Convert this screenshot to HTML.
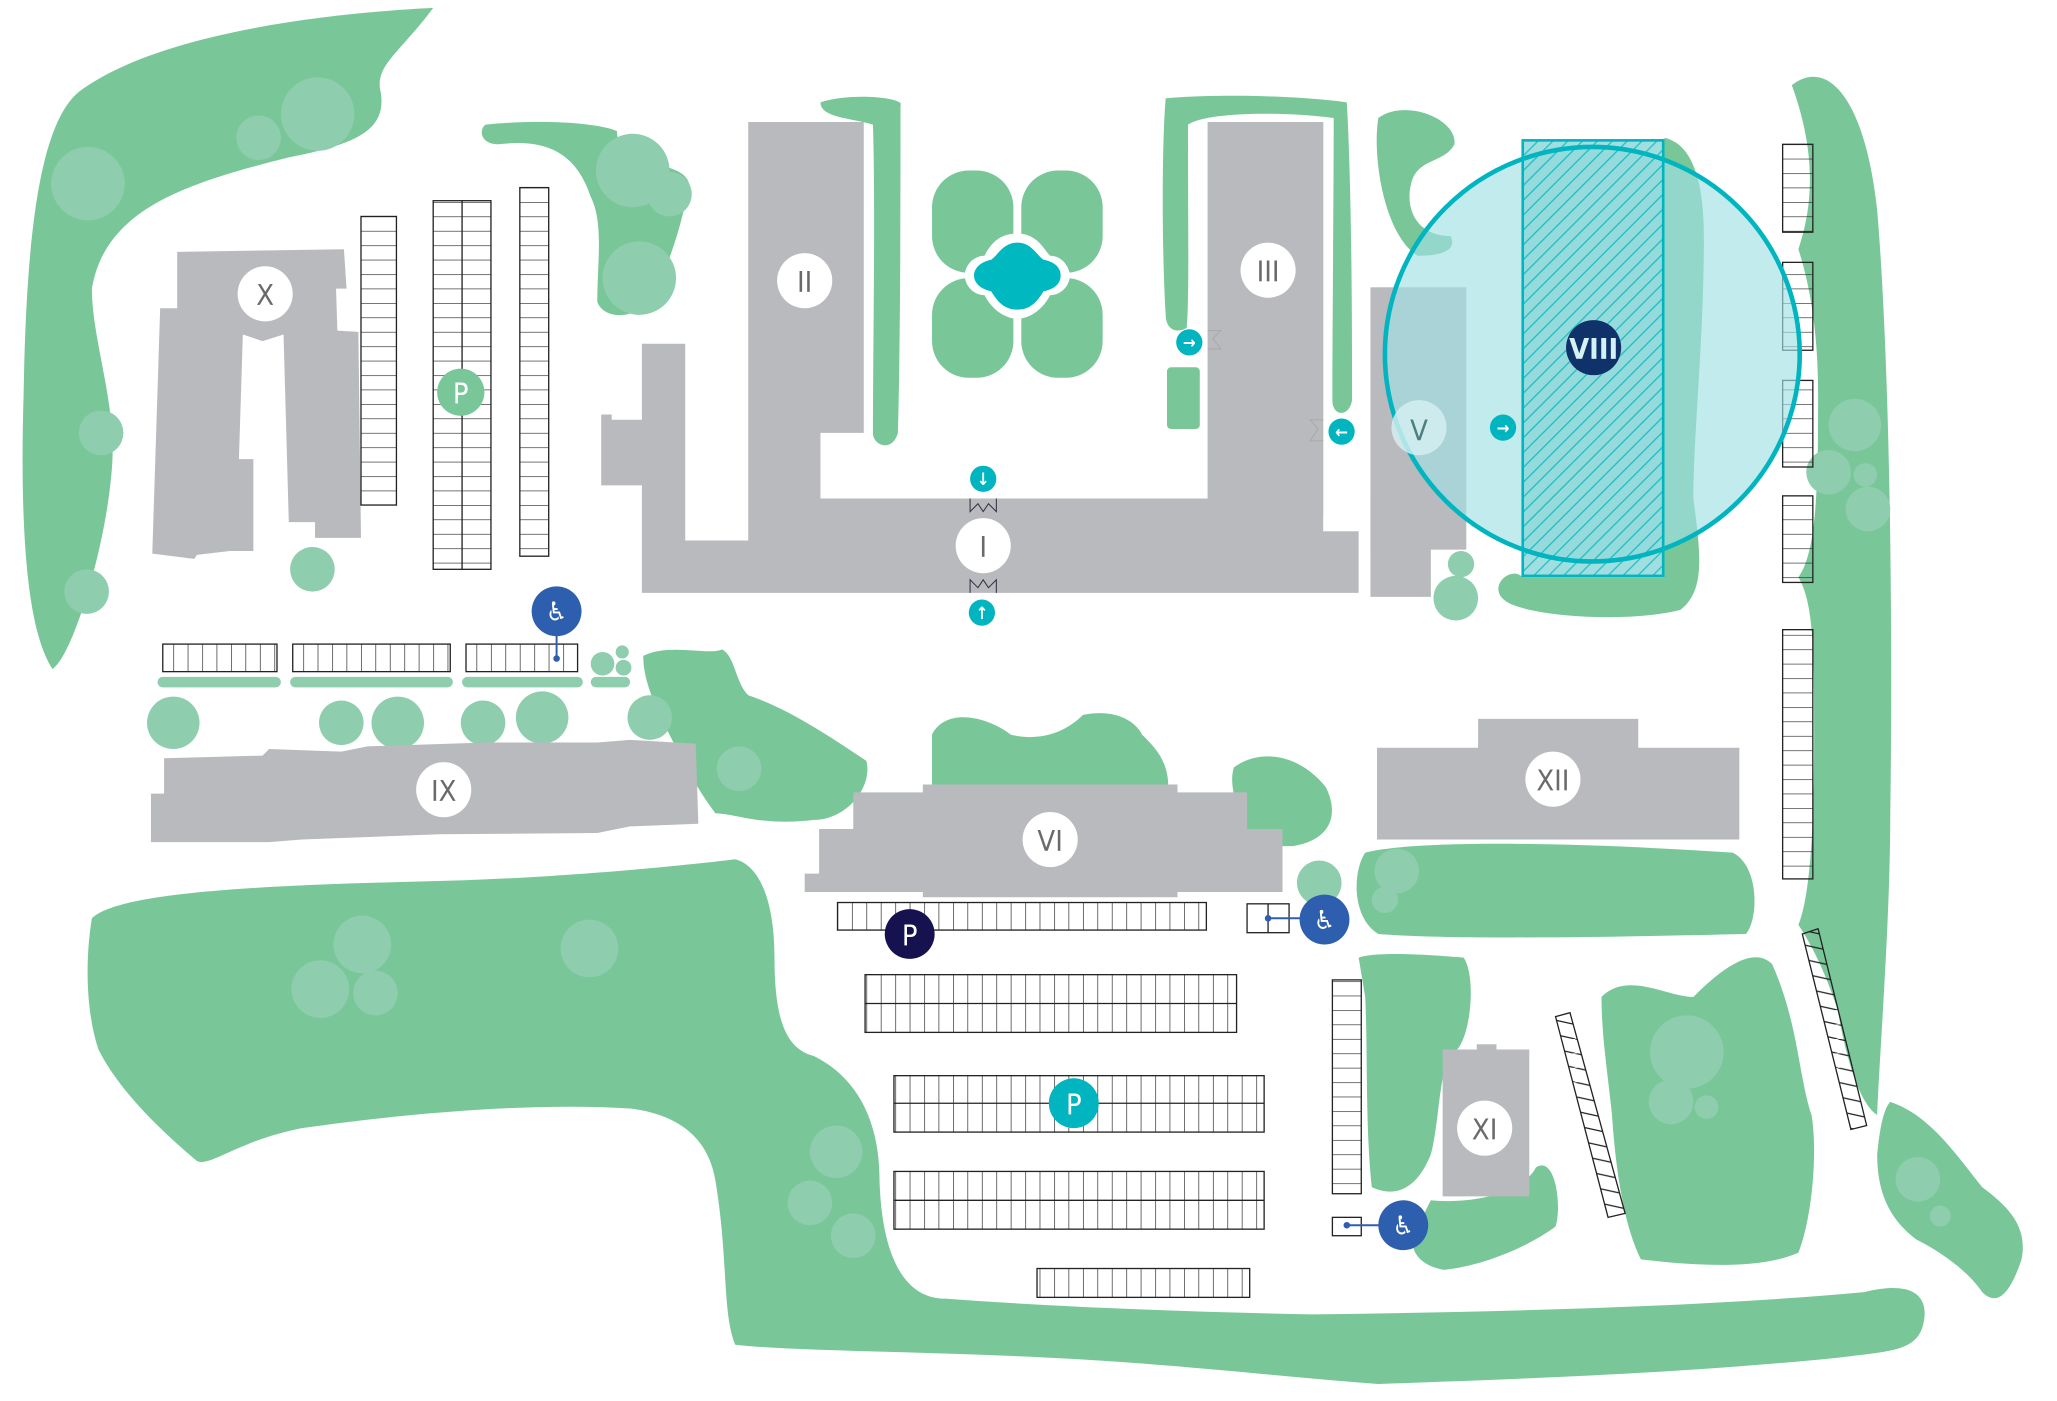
<!DOCTYPE html>
<html><head><meta charset="utf-8"><style>
html,body{margin:0;padding:0;background:#fff}
svg{display:block}
text{font-family:"DejaVu Sans Condensed","DejaVu Sans","Liberation Sans",sans-serif;text-anchor:middle;dominant-baseline:central}
</style></head><body>
<svg width="2057" height="1401" viewBox="0 0 1567 1068" preserveAspectRatio="none" xmlns="http://www.w3.org/2000/svg">
<defs>
<pattern id="hv" width="11" height="200" patternUnits="userSpaceOnUse"><line x1="0" y1="0" x2="0" y2="200" stroke="#222" stroke-width="1"/></pattern>
<pattern id="hh" width="200" height="11" patternUnits="userSpaceOnUse"><line x1="0" y1="0" x2="200" y2="0" stroke="#222" stroke-width="1"/></pattern>
<pattern id="hatch" width="8" height="8" patternUnits="userSpaceOnUse" patternTransform="rotate(45)"><rect width="8" height="8" fill="#8fd8d9"/><line x1="0" y1="0" x2="0" y2="8" stroke="#00b5bf" stroke-width="2"/></pattern>
<pattern id="diag" width="50" height="11" patternUnits="userSpaceOnUse"><line x1="0" y1="0" x2="50" y2="11" stroke="#222" stroke-width="1"/></pattern>
</defs>
<g fill="#79c799">
<!-- top-left big green -->
<path d="M330 6 C250 10 120 25 60 70 C30 95 20 180 18 300 C15 400 20 480 40 510 C55 500 80 420 85 360 C90 310 70 260 70 220 C80 160 140 140 220 120 C270 110 295 100 290 70 C285 50 305 40 330 6Z"/>
<path d="M370 95 C420 90 460 95 470 100 C470 130 520 120 525 140 C520 170 510 200 500 220 C490 245 460 245 455 230 C455 200 460 170 450 150 C440 120 420 105 380 110 C365 110 365 98 370 95Z"/>
<path d="M625 78 C650 70 690 75 686 80 C686 150 686 260 684 330 C680 345 665 340 665 330 C665 260 667 160 665 95 C650 90 625 90 625 78Z"/>
<rect x="710" y="130" width="62" height="78" rx="28"/><rect x="778" y="130" width="62" height="78" rx="28"/>
<rect x="710" y="212" width="62" height="76" rx="28"/><rect x="778" y="212" width="62" height="76" rx="28"/>
<path d="M888 75 C920 72 980 72 1026 78 C1030 150 1030 260 1030 305 C1028 318 1015 318 1015 305 C1015 250 1016 150 1016 90 C980 85 920 85 905 95 C905 170 906 230 904 250 C895 255 888 250 888 240 C885 190 885 110 888 75Z"/>
<rect x="889" y="280" width="25" height="47" rx="3"/>
<path d="M1050 90 C1070 75 1110 90 1108 110 C1100 125 1080 120 1075 140 C1070 160 1080 180 1105 180 C1110 190 1100 195 1080 195 C1055 180 1045 120 1050 90Z"/>
<path d="M1268 105 C1290 110 1298 140 1298 180 C1298 260 1290 330 1290 380 C1295 420 1300 450 1280 465 C1240 475 1170 470 1150 460 C1130 450 1150 430 1160 440 L1268 440Z"/>
<path d="M1365 65 C1390 45 1420 70 1430 160 C1440 280 1442 480 1440 620 C1440 700 1432 800 1430 850 C1415 840 1405 800 1400 770 C1390 740 1380 720 1370 705 C1380 680 1382 620 1382 560 C1382 500 1382 460 1370 440 C1385 420 1385 360 1385 300 C1385 250 1378 215 1370 190 C1380 160 1385 120 1365 65Z"/>
<!-- middle blobs -->
<path d="M490 500 C510 490 540 500 550 495 C560 500 560 520 570 530 C600 540 630 560 660 580 C665 600 645 625 620 625 C580 630 560 620 545 620 C530 600 520 580 510 560 C500 540 490 520 490 500Z"/>
<path d="M710 560 C720 540 750 545 770 560 C790 565 810 560 825 545 C850 540 865 550 870 560 C880 570 890 580 890 600 L710 600Z"/>
<path d="M940 585 C960 570 990 575 1010 600 C1020 620 1015 640 985 645 L950 645 C945 620 935 600 940 585Z"/>
<path d="M1040 650 C1080 640 1200 642 1320 650 C1340 660 1340 700 1330 712 C1200 715 1100 716 1050 712 C1030 700 1030 665 1040 650Z"/>
<path d="M1035 730 C1050 725 1090 728 1115 730 C1125 745 1120 790 1110 800 C1095 810 1098 850 1090 880 C1078 910 1060 912 1045 905 C1040 860 1042 800 1040 760 Z"/>
<path d="M1090 915 C1120 918 1160 910 1170 890 C1185 880 1190 920 1185 935 C1165 950 1130 965 1100 968 C1080 965 1070 950 1080 935Z"/>
<path d="M1220 760 C1240 740 1270 760 1290 760 C1310 740 1335 720 1350 735 C1370 780 1370 820 1380 850 C1385 880 1380 930 1370 955 C1340 968 1290 965 1250 960 C1235 930 1230 880 1228 850 C1225 820 1220 790 1220 760Z"/>
<path d="M1440 840 C1470 850 1490 880 1510 905 C1530 920 1545 935 1540 960 C1530 990 1520 995 1510 985 C1500 970 1480 955 1460 945 C1440 930 1430 910 1430 880 C1432 860 1435 845 1440 840Z"/>
<!-- bottom big green -->
<path d="M70 700 C90 680 200 675 320 672 C420 670 520 660 560 655 C580 660 590 690 590 730 C590 780 600 800 620 805 C650 820 670 850 670 900 C672 960 690 990 720 990 C800 996 900 1000 1000 1002 C1150 1000 1300 996 1420 985 C1460 975 1470 990 1465 1010 C1460 1030 1440 1030 1400 1035 C1300 1045 1200 1050 1050 1055 C980 1050 900 1040 800 1035 C700 1030 600 1030 560 1025 C550 1000 555 960 545 900 C540 870 520 850 480 845 C400 840 300 850 230 860 C180 870 160 890 150 885 C120 860 90 830 75 800 C65 770 65 730 70 700Z"/>
</g>
<!-- light green circles -->
<g fill="#8ecdad">
<circle cx="242" cy="87" r="28"/><circle cx="197" cy="105" r="17"/><circle cx="67" cy="140" r="28"/><circle cx="77" cy="330" r="17"/><circle cx="66" cy="451" r="17"/>
<circle cx="482" cy="130" r="28"/><circle cx="510" cy="148" r="17"/><circle cx="487" cy="212" r="28"/>
<circle cx="238" cy="434" r="17"/>
<rect x="120" y="516" width="94" height="8" rx="4"/><rect x="221" y="516" width="124" height="8" rx="4"/><rect x="352" y="516" width="92" height="8" rx="4"/><rect x="450" y="516" width="30" height="8" rx="4"/>
<circle cx="459" cy="506" r="9"/><circle cx="474" cy="497" r="5"/><circle cx="475" cy="509" r="6"/>
<circle cx="132" cy="551" r="20"/><circle cx="260" cy="551" r="17"/><circle cx="303" cy="551" r="20"/><circle cx="368" cy="551" r="17"/><circle cx="413" cy="547" r="20"/><circle cx="495" cy="547" r="17"/><circle cx="563" cy="586" r="17"/>
<circle cx="276" cy="720" r="22"/><circle cx="244" cy="754" r="22"/><circle cx="286" cy="757" r="17"/><circle cx="449" cy="723" r="22"/>
<circle cx="637" cy="878" r="20"/><circle cx="617" cy="917" r="17"/><circle cx="650" cy="942" r="17"/>
<circle cx="1005" cy="673" r="17"/><circle cx="1064" cy="664" r="17"/><circle cx="1055" cy="686" r="10"/>
<circle cx="1113" cy="430" r="10"/><circle cx="1109" cy="456" r="17"/>
<circle cx="1285" cy="802" r="28"/><circle cx="1273" cy="840" r="17"/><circle cx="1300" cy="844" r="9"/>
<circle cx="1413" cy="324" r="20"/><circle cx="1393" cy="360" r="17"/><circle cx="1421" cy="362" r="9"/><circle cx="1423" cy="388" r="17"/>
<circle cx="1461" cy="899" r="17"/><circle cx="1478" cy="927" r="8"/>
</g>
<!-- buildings -->
<g fill="#b9babd">
<path d="M135 192 L262 190 L264 220 L256 220 L257 252 L273 253 L275 410 L240 410 L240 398 L220 398 L216 255 L200 260 L185 255 L182 350 L193 350 L193 420 L175 420 L150 423 L148 426 L116 422 L122 235 L135 235Z"/>
<path d="M570 93 L658 93 L658 330 L625 330 L625 380 L1008 380 L1008 93 L920 93 L920 380 L1008 380 L1008 405 L1035 405 L1035 452 L489 452 L489 370 L458 370 L458 316 L466 316 L466 320 L489 320 L489 262 L522 262 L522 412 L570 412Z"/>
<rect x="920" y="93" width="88" height="300"/>
<rect x="1044" y="219" width="73" height="200"/><rect x="1044" y="380" width="46" height="75"/>
<path d="M125 578 L200 576 L205 571 L260 573 L280 569 L370 566 L455 566 L480 564 L530 567 L532 628 L480 630 L455 635 L335 636 L230 640 L205 642 L115 642 L115 605 L125 605Z"/>
<path d="M650 604 L703 604 L703 598 L897 598 L897 604 L950 604 L950 632 L977 632 L977 680 L897 680 L897 684 L703 684 L703 680 L613 680 L613 666 L624 666 L624 632 L650 632Z"/>
<path d="M1126 548 L1248 548 L1248 570 L1325 570 L1325 640 L1049 640 L1049 570 L1126 570Z"/>
<path d="M1099 800 L1125 800 L1125 796 L1140 796 L1140 800 L1165 800 L1165 912 L1099 912Z"/>
</g>
<!-- fountain -->
<path d="M775 178 C790 178 795 190 800 195 C810 195 815 205 815 210 C815 218 808 225 800 225 C795 235 785 243 775 243 C765 243 755 235 750 225 C742 225 735 218 735 210 C735 202 742 195 750 195 C755 185 762 178 775 178Z" fill="#fff"/>
<path d="M775 185 C786 185 790 195 795 198 C805 200 808 205 808 210 C808 215 805 220 795 222 C790 230 785 236 775 236 C765 236 760 230 755 222 C746 220 742 215 742 210 C742 205 746 200 755 198 C760 195 764 185 775 185Z" fill="#00b8c0"/>
<!-- parking -->
<g stroke="#222" stroke-width="1">
<rect x="275" y="165" width="27" height="220" fill="url(#hh)"/>
<rect x="330" y="153" width="44" height="281" fill="url(#hh)"/><line x1="352" y1="153" x2="352" y2="434"/>
<rect x="396" y="143" width="22" height="281" fill="url(#hh)"/>
<rect x="124" y="491" width="87" height="21" fill="url(#hv)"/>
<rect x="223" y="491" width="120" height="21" fill="url(#hv)"/>
<rect x="355" y="491" width="85" height="21" fill="url(#hv)"/>
<rect x="638" y="688" width="281" height="21" fill="url(#hv)"/>
<rect x="950" y="689" width="32" height="22" fill="none"/><line x1="966" y1="689" x2="966" y2="711"/>
<rect x="659" y="743" width="283" height="44" fill="url(#hv)"/><line x1="659" y1="765" x2="942" y2="765"/>
<rect x="681" y="820" width="282" height="43" fill="url(#hv)"/><line x1="681" y1="841" x2="963" y2="841"/>
<rect x="681" y="893" width="282" height="44" fill="url(#hv)"/><line x1="681" y1="915" x2="963" y2="915"/>
<rect x="790" y="967" width="162" height="22" fill="url(#hv)"/>
<rect x="1015" y="747" width="22" height="163" fill="url(#hh)"/>
<rect x="1015" y="928" width="22" height="14" fill="none"/>
<rect x="1358" y="110" width="23" height="67" fill="url(#hh)"/>
<rect x="1358" y="200" width="23" height="67" fill="url(#hh)"/>
<rect x="1358" y="290" width="23" height="66" fill="url(#hh)"/>
<rect x="1358" y="378" width="23" height="66" fill="url(#hh)"/>
<rect x="1358" y="480" width="23" height="190" fill="url(#hh)"/>
<path d="M1185 775 L1196 772 L1238 925 L1225 928Z" fill="url(#diag)"/>
<path d="M1373 712 L1385 708 L1422 858 L1410 861Z" fill="url(#diag)"/>
</g>
<!-- VIII overlay -->
<circle cx="1213" cy="270" r="158" fill="#9fe1e3" fill-opacity="0.65"/>
<rect x="1160" y="107" width="107" height="332" fill="url(#hatch)" fill-opacity="0.85"/>
<rect x="1160" y="107" width="107" height="332" fill="none" stroke="#00b5bf" stroke-width="2"/>
<circle cx="1213" cy="270" r="158" fill="none" stroke="#00b5bf" stroke-width="3.5"/>
<!-- labels -->
<g fill="#fff">
<circle cx="202" cy="224" r="21"/><circle cx="613" cy="214" r="21"/><circle cx="966" cy="206" r="21"/><circle cx="749" cy="416" r="21"/>
<circle cx="338" cy="602" r="21"/><circle cx="800" cy="640" r="21"/><circle cx="1183" cy="594" r="21"/><circle cx="1131" cy="860" r="21"/>
</g>
<circle cx="1081" cy="326" r="21" fill="#d6f1f2" fill-opacity="0.8"/>
<g fill="#6a6a6a" font-size="22">
<text x="202" y="225">X</text><text x="613" y="215">II</text><text x="966" y="207">III</text><text x="749" y="417">I</text>
<text x="338" y="603">IX</text><text x="800" y="641">VI</text><text x="1183" y="595">XII</text><text x="1131" y="861">XI</text>
<text x="1081" y="328" fill="#4d7f80">V</text>
</g>
<circle cx="1214" cy="265" r="21" fill="#10326a"/><text x="1214" y="266" fill="#d4f2f3" font-size="22" font-weight="bold">VIII</text>
<!-- P icons -->
<circle cx="351" cy="299" r="18" fill="#79c799"/><text x="351" y="300" fill="#fff" font-size="22">P</text>
<circle cx="693" cy="712" r="19" fill="#15124f"/><text x="693" y="713" fill="#fff" font-size="22">P</text>
<circle cx="818" cy="841" r="19" fill="#00b5bf"/><text x="818" y="842" fill="#fff" font-size="22">P</text>
<!-- accessibility -->
<g stroke="#2d5fae" stroke-width="1.5"><line x1="424" y1="470" x2="424" y2="502"/><line x1="966" y1="700" x2="1008" y2="700"/><line x1="1026" y1="934" x2="1069" y2="934"/></g>
<g fill="#2d5fae"><circle cx="424" cy="502" r="2.5"/><circle cx="966" cy="700" r="2.5"/><circle cx="1026" cy="934" r="2.5"/>
<circle cx="424" cy="466" r="19"/><circle cx="1009" cy="701" r="19"/><circle cx="1069" cy="934" r="19"/></g>
<g fill="#fff" font-size="20"><text x="424" y="467">♿</text><text x="1009" y="702">♿</text><text x="1069" y="935">♿</text></g>
<!-- arrows -->
<g fill="#00b5bf"><circle cx="749" cy="365" r="10"/><circle cx="748" cy="467" r="10"/><circle cx="906" cy="261" r="10"/><circle cx="1022" cy="329" r="10"/><circle cx="1145" cy="326" r="10"/></g>
<g fill="#fff" font-size="13" font-weight="bold"><text x="749" y="366">↓</text><text x="748" y="468">↑</text><text x="906" y="262">→</text><text x="1022" y="330">←</text><text x="1145" y="327">→</text></g>
<g fill="none" stroke="#334" stroke-width="0.8"><path d="M739 380 L739 390 L745 384 L749 390 L753 384 L759 390 L759 380"/><path d="M739 452 L739 442 L745 448 L749 442 L753 448 L759 442 L759 452"/>
<path d="M920 252 L930 252 L924 258 L930 266 L920 266" stroke="#aaa"/><path d="M1008 320 L998 320 L1004 327 L998 336 L1008 336" stroke="#aaa"/></g>
</svg>
</body></html>
